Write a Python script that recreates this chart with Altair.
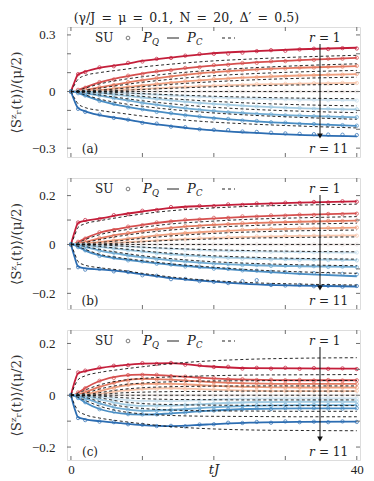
import altair as alt
import pandas as pd

FONT = "Liberation Serif"
MATH = "DejaVu Serif"
TXT = "#222222"

# time grids
T_LINE = [0, 0.5, 1, 2, 4, 7, 10, 14, 19, 25, 32, 40]
T_SU = [0, 1, 2, 4, 6, 8, 10, 12, 14, 16, 18, 20, 22, 24, 26, 28, 30, 32, 34, 36, 38, 40]
R = list(range(1, 12))
COLORS = ["#c41e3a", "#d6504f", "#e47b62", "#f0a07f", "#f8c6ac", "#ebe4e2",
          "#cde2ef", "#a3cce3", "#72add4", "#4a8ec4", "#2c6db2"]

X_DOMAIN = [-0.55, 40.45]
X_TICKS = [0, 10, 20, 30, 40]
X_LABELS = [0, 40]

# ---------------- panel (a) ----------------
PQ_A = [
    [0, .05, .09, .105, .125, .142, .162, .18, .2, .213, .224, .232],
    [0, .002, .008, .022, .048, .075, .095, .115, .135, .152, .166, .178],
    [0, 0, .002, .008, .022, .042, .06, .08, .1, .115, .126, .135],
    [0, 0, 0, .002, .008, .02, .032, .047, .062, .075, .085, .092],
    [0, 0, 0, 0, .002, .007, .013, .021, .03, .037, .042, .046],
    [0, 0, 0, 0, 0, 0, 0, 0, 0, 0, 0, 0],
    [0, 0, 0, 0, -.002, -.007, -.013, -.021, -.03, -.037, -.043, -.047],
    [0, 0, 0, -.002, -.008, -.02, -.032, -.047, -.063, -.077, -.088, -.095],
    [0, 0, -.002, -.008, -.022, -.042, -.06, -.08, -.1, -.116, -.128, -.137],
    [0, -.002, -.008, -.022, -.048, -.075, -.095, -.116, -.137, -.155, -.17, -.182],
    [0, -.05, -.088, -.105, -.125, -.143, -.163, -.183, -.203, -.218, -.23, -.238],
]
PC_A = [
    [0, .035, .065, .085, .1, .115, .13, .145, .16, .172, .183, .192],
    [0, .001, .006, .018, .04, .062, .078, .095, .111, .125, .137, .147],
    [0, 0, .002, .007, .018, .034, .049, .065, .081, .094, .104, .112],
    [0, 0, 0, .002, .007, .016, .026, .038, .05, .061, .07, .076],
    [0, 0, 0, 0, .002, .006, .011, .017, .024, .03, .035, .038],
    [0, 0, 0, 0, 0, 0, 0, 0, 0, 0, 0, 0],
    [0, 0, 0, 0, -.002, -.006, -.011, -.017, -.024, -.03, -.035, -.038],
    [0, 0, 0, -.002, -.007, -.016, -.026, -.038, -.05, -.061, -.07, -.076],
    [0, 0, -.002, -.007, -.018, -.034, -.049, -.065, -.081, -.094, -.104, -.112],
    [0, -.001, -.006, -.018, -.04, -.062, -.078, -.095, -.111, -.125, -.137, -.147],
    [0, -.035, -.065, -.085, -.1, -.115, -.13, -.145, -.16, -.172, -.183, -.193],
]
SU_A = [
    [0, .092, .103, .128, .134, .152, .159, .173, .178, .19, .199, .2, .201, .206, .214, .219, .216, .223, .227, .225, .23, .228],
    [0, .009, .02, .05, .064, .084, .093, .107, .113, .125, .129, .14, .142, .151, .152, .16, .161, .168, .168, .174, .174, .179],
    [0, .003, .007, .023, .034, .05, .059, .071, .079, .09, .095, .104, .107, .114, .116, .121, .122, .127, .127, .132, .132, .136],
    [0, .001, .002, .009, .015, .025, .031, .041, .046, .054, .058, .066, .068, .074, .076, .081, .081, .086, .086, .09, .089, .093],
    [0, 0, .001, .002, .006, .008, .014, .016, .022, .024, .029, .031, .035, .035, .039, .038, .041, .041, .044, .043, .046, .045],
    [0, 0, 0, 0, .001, 0, -.001, .001, 0, -.001, .001, 0, .001, -.001, 0, .001, 0, -.001, .001, 0, -.001, 0],
    [0, 0, -.001, -.003, -.005, -.01, -.013, -.018, -.02, -.026, -.027, -.033, -.034, -.037, -.038, -.041, -.041, -.044, -.044, -.046, -.046, -.048],
    [0, -.001, -.003, -.008, -.017, -.023, -.033, -.039, -.048, -.052, -.061, -.065, -.071, -.074, -.08, -.081, -.086, -.087, -.091, -.091, -.095, -.094],
    [0, -.002, -.009, -.021, -.036, -.047, -.061, -.069, -.081, -.087, -.097, -.102, -.11, -.113, -.119, -.121, -.126, -.127, -.131, -.132, -.136, -.136],
    [0, -.009, -.021, -.05, -.065, -.084, -.094, -.108, -.115, -.126, -.132, -.142, -.145, -.154, -.156, -.163, -.165, -.172, -.172, -.178, -.178, -.181],
    [0, -.092, -.108, -.122, -.14, -.149, -.166, -.17, -.186, -.189, -.2, -.203, -.204, -.212, -.214, -.218, -.222, -.224, -.226, -.228, -.229, -.231],
]

# ---------------- panel (b) ----------------
PQ_B = [
    [0, .05, .088, .097, .106, .122, .135, .15, .158, .165, .171, .176],
    [0, .003, .01, .025, .048, .066, .08, .095, .105, .114, .121, .127],
    [0, 0, .003, .01, .025, .042, .055, .068, .079, .087, .093, .098],
    [0, 0, 0, .003, .01, .02, .03, .042, .052, .06, .065, .069],
    [0, 0, 0, 0, .003, .008, .013, .02, .026, .031, .035, .037],
    [0, 0, 0, 0, 0, 0, 0, 0, 0, 0, 0, 0],
    [0, 0, 0, 0, -.003, -.007, -.012, -.018, -.024, -.028, -.031, -.033],
    [0, 0, 0, -.003, -.01, -.02, -.029, -.04, -.05, -.057, -.061, -.064],
    [0, 0, -.003, -.01, -.025, -.04, -.052, -.065, -.076, -.084, -.089, -.092],
    [0, -.003, -.01, -.025, -.045, -.06, -.07, -.083, -.095, -.108, -.12, -.13],
    [0, -.05, -.09, -.098, -.102, -.11, -.122, -.138, -.15, -.162, -.168, -.172],
]
PC_B = [
    [0, .035, .07, .085, .097, .112, .125, .138, .148, .156, .161, .165],
    [0, .002, .007, .02, .04, .057, .07, .084, .094, .103, .109, .114],
    [0, 0, .002, .008, .02, .035, .047, .059, .069, .077, .083, .087],
    [0, 0, 0, .002, .008, .016, .025, .035, .044, .051, .056, .059],
    [0, 0, 0, 0, .002, .006, .011, .017, .022, .026, .029, .031],
    [0, 0, 0, 0, 0, 0, 0, 0, 0, 0, 0, 0],
    [0, 0, 0, 0, -.002, -.006, -.011, -.016, -.021, -.025, -.028, -.03],
    [0, 0, 0, -.002, -.008, -.017, -.026, -.036, -.045, -.052, -.057, -.06],
    [0, 0, -.002, -.008, -.02, -.034, -.046, -.058, -.069, -.077, -.083, -.087],
    [0, -.002, -.008, -.02, -.04, -.055, -.066, -.079, -.091, -.103, -.112, -.118],
    [0, -.035, -.07, -.085, -.095, -.105, -.118, -.133, -.146, -.156, -.162, -.166],
]
SU_B = [
    [0, .09, .1, .104, .12, .124, .138, .141, .153, .151, .158, .157, .164, .162, .168, .166, .171, .17, .174, .172, .177, .175],
    [0, .011, .024, .05, .059, .073, .079, .09, .094, .101, .102, .109, .109, .115, .114, .119, .118, .122, .121, .125, .124, .126],
    [0, .004, .009, .026, .035, .047, .054, .063, .067, .075, .076, .082, .083, .087, .087, .091, .091, .094, .093, .097, .096, .098],
    [0, .001, .003, .011, .016, .024, .029, .037, .041, .047, .049, .055, .056, .06, .06, .063, .063, .066, .065, .068, .067, .069],
    [0, 0, .001, .003, .007, .009, .014, .016, .021, .021, .026, .026, .03, .029, .033, .032, .035, .034, .036, .035, .037, .036],
    [0, 0, 0, .001, 0, -.001, 0, .001, 0, -.001, 0, .001, 0, -.001, .001, 0, -.001, 0, .001, 0, -.001, 0],
    [0, 0, -.001, -.003, -.005, -.009, -.012, -.016, -.018, -.022, -.022, -.025, -.026, -.028, -.028, -.03, -.03, -.031, -.032, -.032, -.033, -.033],
    [0, -.001, -.003, -.011, -.016, -.024, -.028, -.036, -.039, -.045, -.047, -.053, -.054, -.058, -.057, -.061, -.06, -.063, -.062, -.064, -.063, -.065],
    [0, -.004, -.009, -.026, -.034, -.045, -.051, -.06, -.064, -.07, -.073, -.079, -.08, -.084, -.084, -.088, -.087, -.09, -.089, -.092, -.091, -.093],
    [0, -.011, -.024, -.047, -.054, -.065, -.069, -.079, -.082, -.09, -.092, -.099, -.1, -.106, -.107, -.112, -.113, -.117, -.117, -.12, -.12, -.122],
    [0, -.093, -.103, -.1, -.11, -.113, -.126, -.128, -.142, -.141, -.15, -.153, -.158, -.15, -.146, -.166, -.168, -.166, -.171, -.169, -.173, -.17],
]

# ---------------- panel (c) ----------------
PQ_C = [
    [0, .05, .085, .093, .105, .115, .122, .124, .112, .105, .104, .103],
    [0, .002, .01, .028, .055, .075, .08, .075, .066, .06, .058, .058],
    [0, 0, .003, .012, .032, .055, .063, .06, .052, .046, .044, .044],
    [0, 0, 0, .004, .016, .035, .044, .044, .038, .032, .03, .03],
    [0, 0, 0, .001, .006, .017, .024, .027, .023, .018, .016, .016],
    [0, 0, 0, 0, 0, 0, 0, 0, 0, 0, 0, 0],
    [0, 0, 0, -.001, -.006, -.016, -.022, -.023, -.018, -.013, -.012, -.012],
    [0, 0, 0, -.004, -.016, -.033, -.041, -.04, -.033, -.027, -.025, -.025],
    [0, 0, -.003, -.012, -.031, -.052, -.06, -.057, -.048, -.041, -.038, -.038],
    [0, -.002, -.01, -.028, -.053, -.07, -.075, -.07, -.06, -.053, -.051, -.051],
    [0, -.05, -.085, -.093, -.1, -.108, -.115, -.119, -.113, -.106, -.103, -.102],
]
PC_C = [
    [0, .035, .06, .075, .088, .1, .11, .122, .132, .139, .143, .145],
    [0, .002, .008, .02, .04, .057, .065, .071, .075, .078, .079, .08],
    [0, 0, .002, .008, .024, .04, .047, .052, .055, .056, .057, .057],
    [0, 0, 0, .002, .01, .022, .029, .033, .035, .036, .036, .036],
    [0, 0, 0, 0, .003, .009, .012, .014, .015, .016, .016, .016],
    [0, 0, 0, 0, 0, 0, 0, 0, 0, 0, 0, 0],
    [0, 0, 0, 0, -.003, -.009, -.013, -.016, -.017, -.018, -.018, -.018],
    [0, 0, 0, -.002, -.01, -.024, -.032, -.036, -.038, -.039, -.04, -.04],
    [0, 0, -.002, -.008, -.024, -.042, -.051, -.057, -.06, -.061, -.062, -.062],
    [0, -.002, -.008, -.02, -.042, -.062, -.072, -.078, -.081, -.082, -.083, -.083],
    [0, -.035, -.06, -.075, -.088, -.1, -.11, -.121, -.129, -.134, -.136, -.137],
]
SU_C = [
    [0, .088, .095, .107, .114, .116, .124, .121, .125, .118, .116, .109, .11, .103, .106, .103, .106, .102, .105, .102, .104, .101],
    [0, .011, .027, .056, .067, .078, .079, .079, .074, .072, .067, .066, .062, .062, .059, .06, .058, .059, .057, .059, .057, .058],
    [0, .003, .013, .031, .048, .057, .064, .061, .06, .056, .055, .05, .05, .046, .047, .044, .045, .043, .045, .043, .044, .044],
    [0, .001, .004, .017, .028, .04, .043, .045, .043, .042, .038, .037, .033, .034, .031, .032, .03, .031, .029, .03, .031, .029],
    [0, 0, .002, .005, .014, .02, .025, .025, .027, .024, .025, .021, .021, .017, .018, .016, .017, .015, .017, .015, .016, .017],
    [0, 0, 0, .001, 0, .001, 0, -.001, 0, .001, 0, -.001, 0, .001, 0, -.001, 0, .001, 0, -.001, 0, 0],
    [0, 0, -.002, -.005, -.013, -.018, -.023, -.022, -.024, -.02, -.02, -.016, -.016, -.012, -.014, -.011, -.013, -.011, -.013, -.011, -.012, -.013],
    [0, -.001, -.004, -.017, -.026, -.037, -.04, -.042, -.039, -.038, -.033, -.032, -.028, -.028, -.025, -.026, -.024, -.026, -.024, -.025, -.026, -.024],
    [0, -.004, -.011, -.032, -.044, -.056, -.059, -.06, -.056, -.054, -.049, -.047, -.042, -.042, -.039, -.04, -.037, -.039, -.037, -.038, -.039, -.037],
    [0, -.011, -.027, -.054, -.063, -.073, -.074, -.074, -.069, -.067, -.061, -.059, -.055, -.054, -.051, -.053, -.05, -.052, -.05, -.051, -.052, -.05],
    [0, -.088, -.096, -.102, -.104, -.112, -.114, -.119, -.118, -.12, -.113, -.112, -.106, -.107, -.103, -.106, -.101, -.104, -.102, -.104, -.101, -.103],
]

W = 293
Y_TITLE = "⟨Sᶻᵣ(t)⟩/(μ/2)"
TOP_TITLE = "(γ/J\u2002=\u2002μ\u2002=\u20020.1,\u2002N\u2002=\u200220,\u2002Δ′\u2002=\u20020.5)"
ANN = pd.DataFrame({"k": [0]})


def long_df(times, series):
    rows = []
    for k, r in enumerate(R):
        for t, v in zip(times, series[k]):
            rows.append({"t": t, "v": v, "r": r})
    return pd.DataFrame(rows)


def txt(s, x, y, size=12, style="normal", align="left", font=MATH):
    return alt.Chart(ANN).mark_text(
        text=s, font=font, fontSize=size, fontStyle=style, align=align,
        baseline="middle", color=TXT
    ).encode(x=alt.value(x), y=alt.value(y))


def panel(label, pq, pc, su, dom, ylabels, yticks, h, show_x):
    sx = alt.Scale(domain=X_DOMAIN, nice=False, zero=False)
    sy = alt.Scale(domain=dom, nice=False, zero=False)
    if show_x:
        ax_x = alt.Axis(values=X_LABELS, ticks=False, domain=False, grid=False,
                        labelPadding=3, labelFont=FONT, labelFontSize=13,
                        labelColor=TXT, title="tJ", titleFont=MATH,
                        titleFontSize=13, titleFontStyle="italic",
                        titleFontWeight="normal", titleColor=TXT,
                        titleY=3, titleBaseline="top")
    else:
        ax_x = None
    ax_y = alt.Axis(values=ylabels, ticks=False, domain=False, grid=False,
                    labelPadding=12, labelFont=FONT, labelFontSize=13,
                    labelColor=TXT,
                    labelExpr="datum.value == 0 ? '0' : format(datum.value, '.1f')",
                    title=Y_TITLE, titleFont=MATH, titleFontSize=13.5,
                    titleFontWeight="normal", titleColor="#333333",
                    titlePadding=8)

    def X():
        return alt.X("t:Q", scale=sx, axis=ax_x)

    def Y():
        return alt.Y("v:Q", scale=sy, axis=ax_y)

    col = alt.Color("r:O", scale=alt.Scale(domain=R, range=COLORS), legend=None)

    lines = alt.Chart(long_df(T_LINE, pq)).mark_line(
        strokeWidth=1.8, interpolate="monotone"
    ).encode(x=X(), y=Y(), color=col, detail="r:O")
    dots = alt.Chart(long_df(T_SU, su)).mark_point(
        shape="circle", filled=False, size=11, strokeWidth=1, opacity=0.75
    ).encode(x=X(), y=Y(), color=col)
    dashed = alt.Chart(long_df(T_LINE, pc)).mark_line(
        color="#111111", strokeWidth=0.9, strokeDash=[3, 2.5], interpolate="monotone"
    ).encode(x=X(), y=Y(), detail="r:O")

    ydf = pd.DataFrame({"v": yticks})
    xdf = pd.DataFrame({"t": X_TICKS})
    frame = "#6e6e6e"
    tl = alt.Chart(ydf).mark_rule(color=frame, strokeWidth=1).encode(
        y=Y(), x=alt.value(0), x2=alt.value(4))
    tr = alt.Chart(ydf).mark_rule(color=frame, strokeWidth=1).encode(
        y=Y(), x=alt.value(W - 4), x2=alt.value(W))
    tb = alt.Chart(xdf).mark_rule(color=frame, strokeWidth=1).encode(
        x=X(), y=alt.value(h - 4), y2=alt.value(h))
    tt = alt.Chart(xdf).mark_rule(color=frame, strokeWidth=1).encode(
        x=X(), y=alt.value(0), y2=alt.value(4))

    ly = 11
    leg = [
        txt("SU", 28, ly),
        alt.Chart(ANN).mark_point(shape="circle", filled=False, size=14,
                                  strokeWidth=1, color="#444444").encode(
            x=alt.value(61), y=alt.value(ly)),
        txt("P", 76, ly, size=13, style="italic"),
        txt("Q", 85, ly + 4, size=8.5, style="italic"),
        alt.Chart(ANN).mark_rule(color=TXT, strokeWidth=1).encode(
            x=alt.value(100), x2=alt.value(112), y=alt.value(ly)),
        txt("P", 120, ly, size=13, style="italic"),
        txt("C", 129, ly + 4, size=8.5, style="italic"),
        alt.Chart(ANN).mark_rule(color=TXT, strokeWidth=1, strokeDash=[3, 3]).encode(
            x=alt.value(155), x2=alt.value(168), y=alt.value(ly)),
        txt("r", 242, ly, style="italic"),
        txt("= 1", 252, ly),
        txt("r", 242, h - 8, style="italic"),
        txt("= 11", 252, h - 8),
        txt(label, 23, h - 8, align="center"),
        alt.Chart(ANN).mark_rule(color="#111111", strokeWidth=1).encode(
            x=alt.value(253), y=alt.value(17), y2=alt.value(h - 22)),
        alt.Chart(ANN).mark_point(shape="triangle-down", filled=True, size=32,
                                  color="#111111", opacity=1).encode(
            x=alt.value(253), y=alt.value(h - 21)),
    ]

    return alt.layer(lines, dots, dashed, tl, tr, tb, tt, *leg).properties(
        width=W, height=h)


YL_A = [-0.3, 0, 0.3]
YT_A = [-0.3, -0.2, -0.1, 0, 0.1, 0.2, 0.3]
YL_BC = [-0.2, 0, 0.2]
YT_BC = [-0.2, -0.1, 0, 0.1, 0.2]

pa = panel("(a)", PQ_A, PC_A, SU_A, [-0.347, 0.342], YL_A, YT_A, 130, False)
pb = panel("(b)", PQ_B, PC_B, SU_B, [-0.264, 0.272], YL_BC, YT_BC, 131, False)
pc = panel("(c)", PQ_C, PC_C, SU_C, [-0.25, 0.252], YL_BC, YT_BC, 130, True)

chart = alt.vconcat(pa, pb, pc, spacing=19).properties(
    title=alt.TitleParams(TOP_TITLE, font=MATH,
                          fontSize=12.5, fontWeight="normal", color=TXT,
                          offset=2, anchor="middle")
).configure_view(stroke="#6e6e6e", strokeWidth=1.1).configure(
    background="white",
    padding={"left": 0, "right": 0, "top": 3, "bottom": 0}
)

chart.save("out.html", embed_options={"renderer": "svg", "actions": False})
